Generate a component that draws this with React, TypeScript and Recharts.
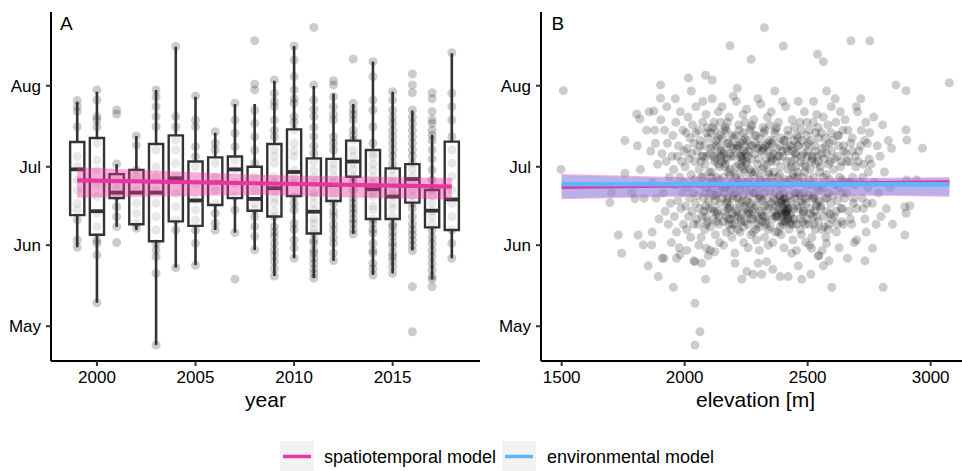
import React from 'react';
import { ComposedChart, Scatter, XAxis, YAxis, ReferenceArea, ReferenceLine, Area, Line } from 'recharts';

const PINK = '#E8359F';
const BLUE = '#5DB4FF';
const BOX = '#333333';

const monthTicks = [121, 152, 182, 213];
const monthNames = ['May', 'Jun', 'Jul', 'Aug'];
const yearTicks = [2000, 2005, 2010, 2015];
const elevTicks = [1500, 2000, 2500, 3000];

// ---- Panel A: boxplot statistics (day of year) ----
const years = [1999, 2000, 2001, 2002, 2003, 2004, 2005, 2006, 2007, 2008, 2009, 2010, 2011, 2012, 2013, 2014, 2015, 2016, 2017, 2018];
const whiskerLow = [151.2, 130.0, 159.0, 157.8, 113.8, 143.4, 144.4, 157.8, 156.8, 150.2, 140.2, 147.0, 139.4, 146.0, 156.3, 140.6, 141.2, 150.0, 138.9, 147.0];
const boxQ1 = [163.5, 156.0, 170.0, 160.0, 153.5, 161.1, 159.4, 167.4, 170.0, 165.2, 163.0, 170.8, 156.5, 168.9, 178.2, 162.0, 162.0, 168.3, 158.8, 157.8];
const boxMedian = [181.0, 165.0, 172.1, 172.1, 172.1, 177.6, 169.1, 176.0, 181.0, 169.7, 173.8, 180.0, 164.8, 175.0, 184.0, 173.4, 170.6, 177.3, 165.2, 169.5];
const boxQ3 = [191.5, 193.0, 179.2, 180.8, 190.7, 194.0, 184.0, 185.6, 185.9, 182.0, 190.7, 196.3, 185.2, 185.0, 192.0, 188.4, 181.4, 183.0, 173.1, 191.6];
const whiskerHigh = [206.9, 210.7, 183.0, 193.8, 211.4, 227.9, 208.8, 195.0, 206.0, 206.0, 214.9, 228.2, 212.9, 210.0, 206.0, 222.2, 210.7, 203.5, 194.2, 225.4];

// observed days per year (same order as years)
const yearDays: number[][] = [
  [207.3, 205.0, 203.1, 197.3, 185.9, 182.0, 176.9, 173.1, 168.0, 165.5, 161.7, 154.0, 151.2],
  [211.4, 207.5, 201.2, 199.9, 197.3, 191.0, 184.6, 180.8, 175.7, 170.6, 164.2, 159.1, 154.0, 152.7, 148.3, 130.0],
  [203.7, 202.2, 183.1, 178.2, 175.7, 173.1, 170.6, 166.7, 162.9, 159.1, 153.0],
  [193.8, 190.3, 180.8, 178.2, 173.1, 168.0, 164.2, 160.4, 158.5],
  [211.4, 208.8, 205.0, 201.2, 197.3, 188.4, 182.0, 178.2, 173.1, 168.0, 162.9, 157.8, 152.7, 150.2, 147.6, 141.2, 113.8],
  [228.0, 201.2, 197.3, 192.2, 188.4, 183.3, 178.2, 171.8, 166.7, 161.6, 157.8, 143.4],
  [209.1, 199.9, 197.3, 189.7, 185.9, 182.0, 175.7, 169.3, 165.5, 161.6, 157.8, 152.7, 144.4],
  [195.4, 191.0, 188.4, 183.3, 178.2, 173.1, 168.0, 164.2, 160.4, 157.8],
  [206.3, 199.9, 194.8, 189.7, 184.6, 180.8, 175.7, 170.6, 165.5, 156.8, 139.0],
  [230.2, 213.6, 211.4, 203.7, 198.6, 193.5, 188.4, 183.3, 178.2, 173.1, 168.0, 165.5, 162.9, 159.1, 155.3, 150.2],
  [215.2, 210.1, 205.0, 199.9, 193.5, 188.4, 183.3, 178.2, 173.1, 168.0, 162.9, 159.1, 155.3, 152.7, 150.2, 145.7, 140.2, 207, 196, 186, 176, 170, 165, 157, 148, 143],
  [228.2, 222.8, 216.5, 211.4, 206.3, 201.2, 196.1, 191.0, 185.9, 180.8, 175.7, 170.6, 165.5, 160.4, 154.0, 147.0, 208, 199, 188, 178, 168, 158, 151],
  [235.3, 213.3, 207.5, 201.2, 193.5, 187.1, 180.8, 175.7, 170.6, 165.5, 160.4, 156.6, 152.7, 148.9, 145.1, 141.2, 139.4, 204, 197, 190, 184, 178, 172, 168, 162, 158, 154, 150, 147, 143],
  [214.9, 213.3, 208.8, 205.0, 199.9, 193.5, 188.4, 183.3, 178.2, 173.1, 168.0, 162.9, 157.8, 152.7, 146.1, 202, 191, 181, 176, 170, 165, 160, 155, 149],
  [223.2, 206.3, 203.7, 199.9, 196.1, 192.2, 188.4, 183.3, 178.2, 173.1, 168.0, 164.2, 160.4, 156.3, 202, 194, 186, 181, 176, 170, 166, 162, 158],
  [222.2, 216.5, 207.5, 203.7, 197.3, 191.0, 185.9, 180.8, 175.7, 170.6, 165.5, 160.4, 156.6, 152.7, 148.9, 145.1, 140.6, 187, 183, 178, 172, 167, 162, 158, 150, 143],
  [210.7, 207.5, 203.7, 198.6, 193.5, 188.4, 183.3, 178.2, 173.1, 168.0, 162.9, 159.1, 155.3, 151.5, 147.6, 143.8, 141.2, 201, 196, 191, 186, 181, 176, 171, 166, 160, 157, 153, 149, 146],
  [217.5, 213.3, 210.3, 203.7, 198.6, 193.5, 188.4, 183.3, 178.2, 173.1, 168.0, 162.9, 157.8, 154.0, 149.9, 136.1, 118.9, 201, 196, 191, 186, 181, 176, 171, 166, 160, 156, 152],
  [210.3, 203.1, 198.6, 194.1, 188.4, 180.8, 173.1, 168.0, 162.9, 157.8, 152.7, 147.6, 142.5, 139.0, 136.1, 208, 200, 196, 192, 185, 177, 171, 165, 160, 155, 150, 145, 140],
  [225.6, 210.1, 205.0, 199.9, 193.5, 188.4, 183.3, 178.2, 173.1, 168.0, 162.9, 157.8, 152.7, 147.0],
];

// spatiotemporal trend over years
const trendYears = [1999, 2008, 2018];
const trendFit = [176.8, 175.7, 174.4];
const trendLow = [170.1, 171.2, 169.4];
const trendHigh = [181.8, 178.9, 177.7];

// ---- Panel B: elevation vs day ----
const elevSparse: [number, number][] = [
  [1507, 211.1], [1497, 181.0], [2324, 235.2], [2184, 228.3], [2401, 228.2], [2676, 230.2], [2753, 230.2],
  [2270, 223.1], [2540, 225.0], [2564, 222.2], [3076, 214.1], [2859, 213.3], [2900, 211.1], [2015, 216.0],
  [2085, 217.0], [2112, 215.2], [1902, 213.3], [1902, 208.2], [1805, 202.2], [1818, 200.3], [1757, 192.0],
  [1875, 203.3], [2967, 189.1], [2900, 196.1], [2903, 192.2], [2841, 189.1], [1703, 172.1], [1785, 172.1],
  [1798, 169.8], [1696, 168.3], [1757, 179.5], [1730, 155.9], [1811, 155.9], [2895, 166.7], [2916, 167.1],
  [2900, 164.2], [2895, 155.9], [2943, 176.9], [2902, 176.9], [2042, 129.8], [2062, 118.9], [2042, 113.8],
  [1954, 135.9], [2598, 135.9], [2807, 135.9], [2085, 139.0], [1893, 140.0], [1852, 144.1], [1744, 148.9],
  [1832, 152.1], [1866, 152.1], [2733, 146.0], [2764, 150.8], [2232, 139.0], [2279, 140.9], [2313, 140.9],
  [2358, 142.8], [2388, 140.0], [2421, 140.0], [2476, 139.0], [2513, 140.9], [2577, 152.7], [2435, 148.9],
  [2333, 145.7], [2299, 145.1], [2123, 149.5], [2089, 150.8], [1909, 147.0], [1981, 148.3], [1967, 147.0],
  [2069, 145.1], [2042, 145.7], [2205, 145.1], [2252, 141.9], [2462, 144.1], [2564, 144.1], [2543, 147.9],
  [2516, 150.8], [2699, 154.0],
];

const elevCoreLow: [number, number][] = [
  [1808, 190], [1820, 181], [1835, 170], [1845, 196],
  [1855, 203], [1862, 188], [1870, 176], [1878, 196], [1884, 170], [1890, 183], [1896, 162], [1868, 157], [1881, 191],
  [1903, 200], [1908, 187], [1912, 172], [1918, 196], [1921, 165], [1925, 184], [1930, 191], [1934, 160], [1938, 178], [1942, 168], [1946, 153], [1949, 186], [1915, 147], [1927, 205],
  [1952, 194], [1955, 181], [1958, 163], [1961, 175], [1964, 199], [1967, 157], [1970, 186], [1972, 169], [1975, 190], [1978, 151], [1980, 178], [1983, 203], [1985, 166], [1988, 184], [1990, 172], [1993, 196], [1995, 160], [1997, 188], [1999, 176], [1962, 208],
  [2002, 182], [2004, 167], [2006, 195], [2008, 158], [2010, 189], [2012, 174], [2014, 201], [2016, 163], [2018, 185], [2020, 170], [2022, 193], [2024, 155], [2026, 179], [2028, 187], [2030, 165], [2032, 198], [2034, 172], [2036, 160], [2038, 191], [2040, 177], [2042, 184], [2044, 168], [2046, 205], [2048, 162], [2009, 150], [2027, 211], [2037, 146], [2045, 195],
  [2051, 188], [2053, 171], [2055, 160], [2057, 196], [2059, 181], [2061, 166], [2063, 192], [2065, 175], [2067, 155], [2069, 186], [2071, 163], [2073, 199], [2075, 178], [2077, 170], [2079, 190], [2081, 158], [2083, 183], [2085, 167], [2087, 202], [2089, 174], [2091, 186], [2093, 161], [2095, 193], [2097, 169], [2099, 180], [2058, 152], [2074, 207], [2086, 163], [2092, 197], [2066, 184], [2078, 165], [2096, 148],
  [2101, 187], [2103, 172], [2105, 159], [2107, 195], [2109, 180], [2111, 166], [2113, 190], [2115, 176], [2117, 162], [2119, 199], [2121, 184], [2123, 169], [2125, 156], [2127, 192], [2129, 178], [2131, 164], [2133, 187], [2135, 172], [2137, 203], [2139, 160], [2141, 182], [2143, 168], [2145, 194], [2147, 175], [2149, 186], [2104, 150], [2112, 208], [2118, 171], [2124, 196], [2130, 161], [2136, 183], [2142, 153], [2146, 199], [2108, 178], [2132, 165], [2144, 190],
  [2151, 184], [2153, 170], [2155, 193], [2157, 161], [2159, 178], [2161, 188], [2163, 165], [2165, 197], [2167, 174], [2169, 157], [2171, 185], [2173, 169], [2175, 191], [2177, 162], [2179, 180], [2181, 201], [2183, 167], [2185, 187], [2187, 173], [2189, 158], [2191, 194], [2193, 176], [2195, 164], [2197, 189], [2199, 171], [2152, 205], [2158, 152], [2164, 182], [2170, 196], [2176, 166], [2182, 175], [2188, 190], [2194, 160], [2198, 209], [2156, 187], [2162, 172], [2168, 163], [2174, 199], [2186, 181], [2192, 155],
];

const elevCoreMid: [number, number][] = [
  [2201, 186], [2203, 172], [2205, 160], [2207, 194], [2209, 179], [2211, 166], [2213, 189], [2215, 175], [2217, 163], [2219, 198], [2221, 183], [2223, 168], [2225, 157], [2227, 191], [2229, 177], [2231, 164], [2233, 186], [2235, 171], [2237, 202], [2239, 159], [2241, 181], [2243, 167], [2245, 193], [2247, 174], [2249, 187], [2204, 149], [2210, 207], [2216, 170], [2222, 196], [2228, 162], [2234, 184], [2240, 153], [2246, 199], [2206, 178], [2212, 165], [2218, 190], [2224, 173], [2230, 161], [2236, 192], [2242, 180], [2248, 166], [2214, 212],
  [2251, 183], [2253, 169], [2255, 192], [2257, 160], [2259, 177], [2261, 188], [2263, 164], [2265, 196], [2267, 173], [2269, 156], [2271, 185], [2273, 168], [2275, 190], [2277, 162], [2279, 179], [2281, 200], [2283, 166], [2285, 187], [2287, 172], [2289, 158], [2291, 194], [2293, 175], [2295, 163], [2297, 189], [2299, 170], [2252, 204], [2258, 151], [2264, 181], [2270, 197], [2276, 165], [2282, 176], [2288, 191], [2294, 160], [2298, 208], [2256, 186], [2262, 171], [2268, 162], [2274, 198], [2286, 180], [2292, 154],
  [2301, 185], [2303, 171], [2305, 159], [2307, 193], [2309, 178], [2311, 165], [2313, 188], [2315, 174], [2317, 161], [2319, 197], [2321, 182], [2323, 167], [2325, 155], [2327, 190], [2329, 176], [2331, 163], [2333, 185], [2335, 170], [2337, 201], [2339, 158], [2341, 180], [2343, 166], [2345, 192], [2347, 173], [2349, 186], [2304, 150], [2310, 206], [2316, 169], [2322, 195], [2328, 161], [2334, 183], [2340, 152], [2346, 198], [2306, 177], [2312, 164], [2318, 189], [2324, 172], [2330, 160], [2336, 191], [2342, 179],
  [2351, 184], [2353, 168], [2355, 191], [2357, 162], [2359, 176], [2361, 187], [2363, 165], [2365, 195], [2367, 172], [2369, 157], [2371, 184], [2373, 167], [2375, 189], [2377, 163], [2379, 178], [2381, 199], [2383, 166], [2385, 186], [2387, 171], [2389, 159], [2391, 193], [2393, 174], [2395, 164], [2397, 188], [2399, 169], [2352, 203], [2358, 153], [2364, 180], [2370, 196], [2376, 164], [2382, 175], [2388, 190], [2394, 161], [2398, 207], [2356, 185], [2362, 170], [2368, 163], [2374, 197], [2386, 179], [2392, 156], [2366, 211], [2384, 168],
  [2401, 186], [2403, 170], [2405, 161], [2407, 192], [2409, 177], [2411, 165], [2413, 189], [2415, 168], [2417, 163], [2419, 196], [2421, 181], [2423, 166], [2425, 158], [2427, 190], [2429, 175], [2431, 163], [2433, 184], [2435, 169], [2437, 200], [2439, 160], [2441, 179], [2443, 166], [2445, 192], [2447, 172], [2449, 185], [2404, 151], [2410, 205], [2416, 166], [2422, 194], [2428, 161], [2434, 182], [2440, 154], [2446, 197], [2406, 176], [2412, 164], [2418, 188], [2424, 171], [2430, 160], [2436, 190], [2442, 178], [2414, 165], [2420, 162],
];

const elevCoreHigh: [number, number][] = [
  [2451, 187], [2453, 172], [2455, 160], [2457, 194], [2459, 180], [2461, 166], [2463, 190], [2465, 176], [2467, 162], [2469, 199], [2471, 184], [2473, 169], [2475, 156], [2477, 192], [2479, 178], [2481, 164], [2483, 187], [2485, 172], [2487, 203], [2489, 160], [2491, 182], [2493, 168], [2495, 194], [2497, 175], [2499, 186], [2454, 150], [2462, 207], [2468, 171], [2474, 196], [2480, 161], [2486, 183], [2492, 153], [2496, 199], [2458, 178], [2482, 165], [2494, 190],
  [2501, 188], [2503, 171], [2505, 160], [2507, 196], [2509, 181], [2511, 166], [2513, 192], [2515, 175], [2517, 155], [2519, 186], [2521, 163], [2523, 199], [2525, 178], [2527, 170], [2529, 190], [2531, 158], [2533, 183], [2535, 167], [2537, 202], [2539, 174], [2541, 186], [2543, 161], [2545, 193], [2547, 169], [2549, 180], [2508, 152], [2524, 207], [2536, 163], [2542, 197], [2516, 184], [2528, 165], [2546, 148],
  [2552, 182], [2554, 167], [2556, 195], [2558, 158], [2560, 189], [2562, 174], [2564, 201], [2566, 163], [2568, 185], [2570, 170], [2572, 193], [2574, 155], [2576, 179], [2578, 187], [2580, 165], [2582, 198], [2584, 172], [2586, 160], [2588, 191], [2590, 177], [2592, 184], [2594, 168], [2596, 205], [2598, 162], [2559, 150], [2577, 211], [2587, 146], [2595, 195],
  [2602, 192], [2605, 181], [2608, 163], [2611, 175], [2614, 199], [2617, 157], [2620, 186], [2622, 169], [2625, 190], [2628, 151], [2630, 178], [2633, 203], [2635, 166], [2638, 184], [2640, 172], [2643, 196], [2645, 160], [2647, 188], [2649, 176], [2612, 208], [2626, 194], [2641, 166],
  [2652, 200], [2656, 187], [2660, 172], [2664, 196], [2667, 165], [2671, 184], [2675, 191], [2679, 160], [2683, 178], [2686, 168], [2690, 153], [2694, 186], [2698, 205], [2662, 147], [2673, 176], [2681, 193], [2688, 170], [2696, 182],
  [2703, 203], [2708, 188], [2712, 176], [2718, 196], [2722, 170], [2728, 183], [2733, 162], [2738, 157], [2743, 191], [2747, 180], [2716, 208], [2726, 166], [2736, 199], [2745, 174],
  [2752, 195], [2758, 183], [2763, 168], [2768, 201], [2772, 176], [2778, 160], [2783, 190], [2788, 172], [2794, 186], [2798, 163],
  [2805, 198], [2812, 180], [2820, 166], [2828, 192], [2836, 174], [2845, 160],
];

const elevCoreExtra: [number, number][] = [
  [2062, 190], [2068, 178], [2076, 186], [2084, 172], [2090, 195], [2098, 166], [2106, 189], [2110, 174], [2114, 197], [2120, 165],
  [2126, 185], [2128, 171], [2134, 193], [2138, 177], [2140, 163], [2148, 188], [2154, 174], [2160, 196], [2166, 183], [2172, 168],
  [2178, 191], [2180, 160], [2184, 179], [2190, 186], [2196, 170], [2200, 193], [2202, 163], [2208, 182], [2212, 190], [2216, 158],
  [2220, 176], [2226, 186], [2232, 169], [2238, 195], [2244, 161], [2250, 184], [2254, 176], [2260, 165], [2266, 190], [2272, 180],
  [2278, 157], [2280, 172], [2284, 194], [2290, 167], [2296, 183], [2300, 162], [2302, 190], [2308, 170], [2314, 181], [2320, 163],
  [2326, 196], [2332, 176], [2338, 167], [2344, 188], [2348, 159], [2354, 178], [2360, 192], [2366, 169], [2372, 163], [2378, 186],
  [2380, 157], [2386, 171], [2390, 182], [2396, 165], [2400, 160], [2402, 192], [2408, 168], [2412, 161], [2416, 184], [2420, 166],
  [2426, 177], [2432, 164], [2438, 188], [2444, 162], [2448, 170], [2452, 182], [2456, 167], [2460, 193], [2464, 172], [2470, 158],
  [2476, 186], [2484, 165], [2488, 180], [2490, 170], [2498, 162], [2502, 191], [2506, 177], [2512, 164], [2518, 185], [2522, 171],
  [2526, 160], [2532, 195], [2538, 168], [2544, 184], [2548, 173], [2553, 166], [2557, 187], [2563, 178], [2567, 159], [2573, 190],
  [2579, 170], [2585, 183], [2591, 164], [2597, 188], [2603, 171], [2609, 185], [2615, 165], [2621, 194], [2627, 174], [2634, 182],
  [2639, 161], [2646, 190], [2651, 170], [2659, 184], [2666, 176], [2674, 162], [2682, 188], [2691, 175], [2699, 166], [2706, 184],
  [2715, 190], [2724, 178], [2732, 192], [2741, 168], [2750, 185],
  [2395, 168], [2405, 166], [2410, 170], [2398, 163], [2402, 172], [2392, 169], [2408, 164], [2235, 185], [2240, 188], [2230, 182],
  [2245, 190], [2228, 187], [2180, 166], [2185, 162], [2175, 170], [2255, 164], [2262, 168], [2120, 186], [2130, 190], [2160, 185],
  [2100, 176], [2090, 160], [2320, 188], [2340, 190], [2450, 187], [2460, 190], [2480, 168], [2520, 170], [2530, 188], [2585, 158],
  [2620, 160], [2640, 177],
];

// model fits across elevation
const fitElev = [1500, 2000, 2400, 2800, 3076];
const stFit = [174.4, 174.9, 175.3, 175.7, 176.0];
const stLow = [169.6, 170.6, 171.0, 170.9, 170.5];
const stHigh = [179.2, 178.0, 177.6, 177.8, 178.0];
const envFit = [175.3, 175.3, 175.3, 175.3, 175.3];
const envLow = [170.0, 171.0, 171.4, 171.3, 170.9];
const envHigh = [178.8, 177.6, 177.2, 177.4, 177.6];

// ---- derived tables ----
const yearPoints = years.flatMap((yr, i) => yearDays[i].map((d) => ({ x: yr, y: d })));
const trendRows = trendYears.map((yr, i) => ({ x: yr, fit: trendFit[i], band: [trendLow[i], trendHigh[i]] }));
const elevPoints = [...elevSparse, ...elevCoreLow, ...elevCoreMid, ...elevCoreHigh, ...elevCoreExtra].map(([e, d]) => ({ x: e, y: d }));
const fitRows = fitElev.map((e, i) => ({
  x: e,
  st: stFit[i],
  stBand: [stLow[i], stHigh[i]],
  env: envFit[i],
  envBand: [envLow[i], envHigh[i]],
}));

const HALF = 0.36;
const FONT = "'Liberation Sans', Arial, Helvetica, sans-serif";
const Y_DOMAIN: [number, number] = [107.7, 241.2];

const monthFmt = (v: number) => {
  const i = monthTicks.indexOf(v);
  return i >= 0 ? monthNames[i] : '';
};

const dot = (props: any) => (
  <circle cx={props.cx} cy={props.cy} r={4.5} fill="#000" fillOpacity={0.2} />
);

const axisTitle = (text: string) => (props: any) => {
  const vb = props.viewBox || { x: 0, y: 0, width: 0, height: 0 };
  return (
    <text x={vb.x + vb.width / 2} y={407} textAnchor="middle" fontSize={21} fill="#000" fontFamily={FONT}>
      {text}
    </text>
  );
};

const tickStyle = { fontSize: 17, fill: '#000', fontFamily: FONT };
const axisLineStyle = { stroke: '#000', strokeWidth: 2 };
const tickLineStyle = { stroke: '#333', strokeWidth: 2 };

function PanelA() {
  return (
    <ComposedChart width={482} height={471} data={trendRows} margin={{ top: 12, right: 2, bottom: 50, left: 0 }} style={{ fontFamily: FONT }}>
      <XAxis
        type="number"
        dataKey="x"
        domain={[1997.67, 2019.43]}
        allowDataOverflow
        ticks={yearTicks}
        tick={tickStyle}
        tickSize={5}
        tickMargin={5}
        axisLine={axisLineStyle}
        tickLine={tickLineStyle}
        height={60}
        label={axisTitle('year')}
      />
      <YAxis
        type="number"
        dataKey="y"
        domain={Y_DOMAIN}
        allowDataOverflow
        ticks={monthTicks}
        tickFormatter={monthFmt}
        tick={tickStyle}
        tickSize={5}
        tickMargin={5}
        axisLine={axisLineStyle}
        tickLine={tickLineStyle}
        width={51}
      />
      <Scatter data={yearPoints} shape={dot} isAnimationActive={false} zIndex={50} />
      {years.map((yr, i) => (
        <ReferenceArea
          key={'box' + yr}
          x1={yr - HALF}
          x2={yr + HALF}
          y1={boxQ1[i]}
          y2={boxQ3[i]}
          fill="#fff"
          fillOpacity={0.55}
          stroke={BOX}
          strokeWidth={2.4}
          strokeOpacity={1}
          zIndex={60}
        />
      ))}
      {years.map((yr, i) => (
        <ReferenceLine
          key={'wl' + yr}
          segment={[{ x: yr, y: whiskerLow[i] }, { x: yr, y: boxQ1[i] }]}
          stroke={BOX}
          strokeWidth={2.6}
          zIndex={70}
        />
      ))}
      {years.map((yr, i) => (
        <ReferenceLine
          key={'wh' + yr}
          segment={[{ x: yr, y: boxQ3[i] }, { x: yr, y: whiskerHigh[i] }]}
          stroke={BOX}
          strokeWidth={2.6}
          zIndex={70}
        />
      ))}
      {years.map((yr, i) => (
        <ReferenceLine
          key={'md' + yr}
          segment={[{ x: yr - HALF, y: boxMedian[i] }, { x: yr + HALF, y: boxMedian[i] }]}
          stroke={BOX}
          strokeWidth={3.8}
          zIndex={70}
        />
      ))}
      <Area type="linear" dataKey="band" stroke="none" fill={PINK} fillOpacity={0.4} isAnimationActive={false} zIndex={80} />
      <Line type="linear" dataKey="fit" stroke={PINK} strokeWidth={4.2} dot={false} activeDot={false} isAnimationActive={false} zIndex={90} />
    </ComposedChart>
  );
}

function PanelB() {
  return (
    <ComposedChart width={490} height={471} data={fitRows} margin={{ top: 12, right: 0, bottom: 50, left: 0 }} style={{ fontFamily: FONT }}>
      <XAxis
        type="number"
        dataKey="x"
        domain={[1416, 3160]}
        allowDataOverflow
        ticks={elevTicks}
        tick={tickStyle}
        tickSize={5}
        tickMargin={5}
        axisLine={axisLineStyle}
        tickLine={tickLineStyle}
        height={60}
        label={axisTitle('elevation [m]')}
      />
      <YAxis
        type="number"
        dataKey="y"
        domain={Y_DOMAIN}
        allowDataOverflow
        ticks={monthTicks}
        tickFormatter={monthFmt}
        tick={tickStyle}
        tickSize={5}
        tickMargin={5}
        axisLine={axisLineStyle}
        tickLine={tickLineStyle}
        width={61}
      />
      <Scatter data={elevPoints} shape={dot} isAnimationActive={false} zIndex={50} />
      <Area type="linear" dataKey="stBand" stroke="none" fill={PINK} fillOpacity={0.4} isAnimationActive={false} zIndex={80} />
      <Area type="linear" dataKey="envBand" stroke="none" fill={BLUE} fillOpacity={0.4} isAnimationActive={false} zIndex={81} />
      <Line type="linear" dataKey="st" stroke={PINK} strokeWidth={4.5} dot={false} activeDot={false} isAnimationActive={false} zIndex={90} />
      <Line type="linear" dataKey="env" stroke={BLUE} strokeWidth={4.5} dot={false} activeDot={false} isAnimationActive={false} zIndex={91} />
    </ComposedChart>
  );
}

export default function App() {
  return (
    <div
      style={{
        position: 'absolute',
        left: 0,
        top: 0,
        width: 962,
        height: 471,
        overflow: 'hidden',
        background: '#fff',
        fontFamily: FONT,
      }}
    >
      <style>{`.recharts-wrapper, .recharts-wrapper svg, .recharts-wrapper text, .recharts-text { font-family: 'Liberation Sans', Arial, Helvetica, sans-serif !important; }`}</style>
      <div style={{ position: 'absolute', left: 0, top: 0 }}>
        <PanelA />
      </div>
      <div style={{ position: 'absolute', left: 480, top: 0 }}>
        <PanelB />
      </div>
      <svg width={962} height={471} style={{ position: 'absolute', left: 0, top: 0, pointerEvents: 'none' }}>
        <text x={60} y={30} fontSize={19} fill="#000" fontFamily={FONT}>A</text>
        <text x={551.5} y={30} fontSize={19} fill="#000" fontFamily={FONT}>B</text>
        <rect x={280} y={441} width={34} height={30} fill="#F2F2F2" />
        <line x1={283} x2={311} y1={456.5} y2={456.5} stroke={PINK} strokeWidth={3.5} />
        <text x={324} y={463} fontSize={18} fill="#000" fontFamily={FONT}>spatiotemporal model</text>
        <rect x={502} y={441} width={34} height={30} fill="#F2F2F2" />
        <line x1={505} x2={533} y1={456.5} y2={456.5} stroke={BLUE} strokeWidth={3.5} />
        <text x={547} y={463} fontSize={18} fill="#000" fontFamily={FONT}>environmental model</text>
      </svg>
    </div>
  );
}
